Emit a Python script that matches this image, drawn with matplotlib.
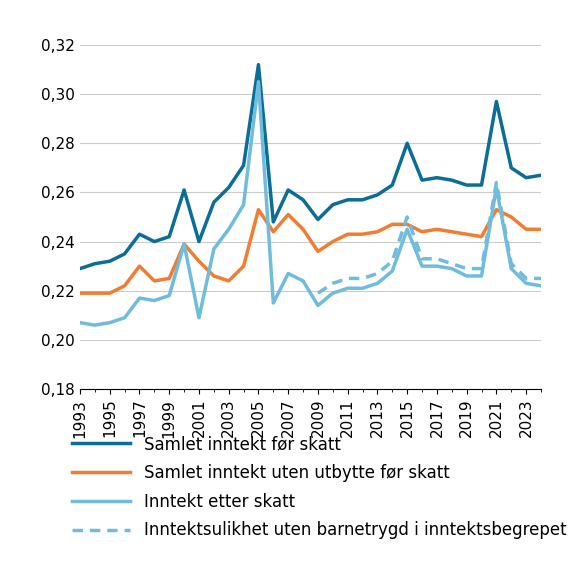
import numpy as np
import matplotlib
matplotlib.use('Agg')
import matplotlib.pyplot as plt

years = list(range(1993, 2025))
for_skatt = [0.229, 0.231, 0.232, 0.235, 0.243, 0.240, 0.242, 0.261, 0.240, 0.256, 0.262,
             0.271, 0.312, 0.248, 0.261, 0.257, 0.249, 0.255, 0.257, 0.257, 0.259, 0.263,
             0.280, 0.265, 0.266, 0.265, 0.263, 0.263, 0.297, 0.270, 0.266, 0.267]
uten_utbytte = [0.219, 0.219, 0.219, 0.222, 0.230, 0.224, 0.225, 0.239, 0.232, 0.226, 0.224,
                0.230, 0.253, 0.244, 0.251, 0.245, 0.236, 0.240, 0.243, 0.243, 0.244, 0.247,
                0.247, 0.244, 0.245, 0.244, 0.243, 0.242, 0.253, 0.250, 0.245, 0.245]
etter_skatt = [0.207, 0.206, 0.207, 0.209, 0.217, 0.216, 0.218, 0.239, 0.209, 0.237, 0.245,
               0.255, 0.305, 0.215, 0.227, 0.224, 0.214, 0.219, 0.221, 0.221, 0.223, 0.228,
               0.245, 0.230, 0.230, 0.229, 0.226, 0.226, 0.262, 0.229, 0.223, 0.222]
years_bt = list(range(2009, 2025))
uten_barnetrygd = [0.219, 0.223, 0.225, 0.225, 0.227, 0.232, 0.250, 0.233, 0.233, 0.231,
                   0.229, 0.229, 0.264, 0.231, 0.225, 0.225]

fig = plt.figure(figsize=(5.75, 5.68), dpi=100)
ax = fig.add_axes([80/575, 1-389/568, (541-80)/575, (389-45)/568])
ax.plot(years, for_skatt, color='#0a6e96', lw=2.5, label='Samlet inntekt før skatt')
ax.plot(years, uten_utbytte, color='#f07d32', lw=2.5, label='Samlet inntekt uten utbytte før skatt')
ax.plot(years, etter_skatt, color='#6fbcdc', lw=2.5, label='Inntekt etter skatt')
ax.plot(years_bt, uten_barnetrygd, color='#6fbcdc', lw=2.5, ls=(0, (3, 2)),
        label='Inntektsulikhet uten barnetrygd i inntektsbegrepet')

ax.set_xlim(1993, 2024)
ax.set_ylim(0.18, 0.32)
ax.set_yticks(np.arange(0.18, 0.321, 0.02))
ax.set_yticklabels([f'{v:.2f}'.replace('.', ',') for v in np.arange(0.18, 0.321, 0.02)])
ax.set_xticks(range(1993, 2025, 2))
ax.set_xticks(range(1993, 2025), minor=True)
ax.tick_params(axis='x', rotation=90, labelsize=11)
ax.tick_params(axis='y', length=0, labelsize=11)
ax.grid(axis='y', color='#cccccc', lw=0.8)
ax.set_axisbelow(True)
for s in ['top', 'right', 'left']:
    ax.spines[s].set_visible(False)
ax.legend(loc='upper left', bbox_to_anchor=(-0.05, -0.09), frameon=False, fontsize=12,
          handlelength=3.5, labelspacing=0.65)
fig.savefig('out.png')
